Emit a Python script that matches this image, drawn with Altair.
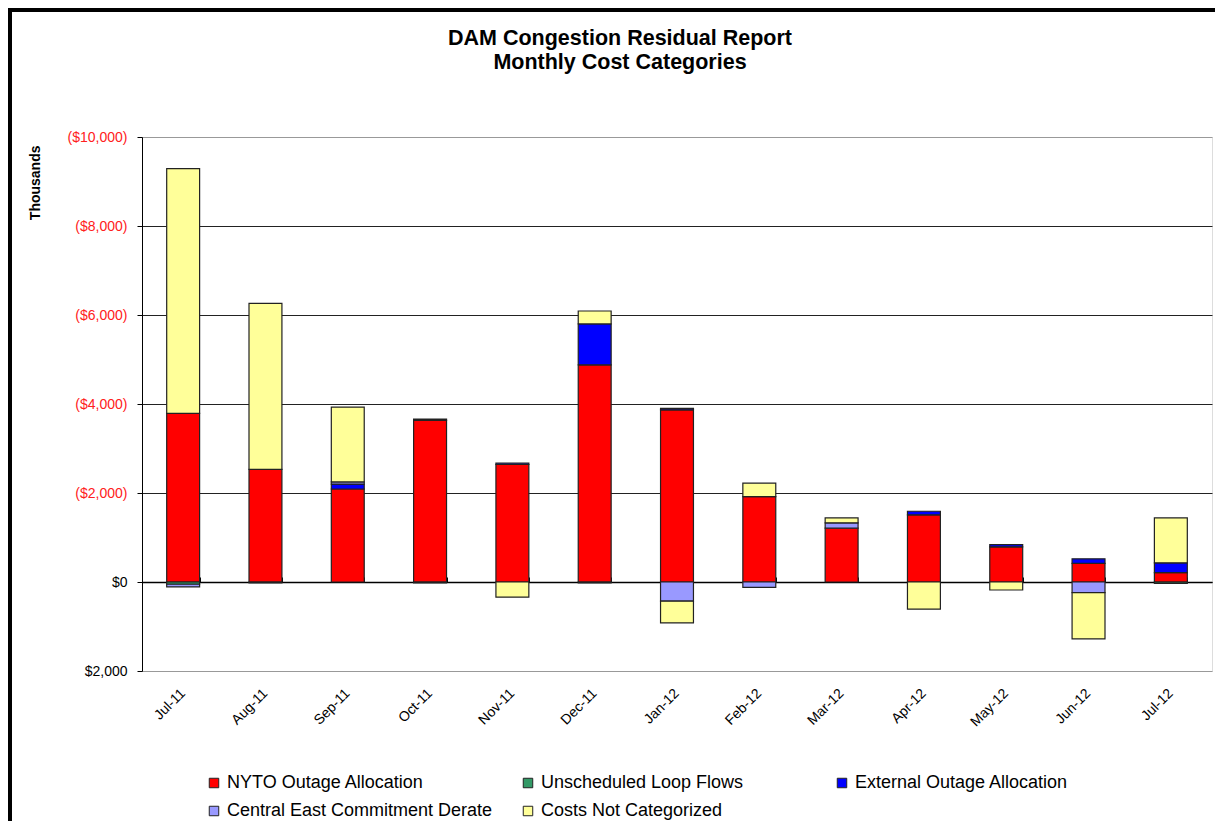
import altair as alt
import pandas as pd

months = ["Jul-11", "Aug-11", "Sep-11", "Oct-11", "Nov-11", "Dec-11", "Jan-12",
          "Feb-12", "Mar-12", "Apr-12", "May-12", "Jun-12", "Jul-12"]
series = ["NYTO Outage Allocation", "Unscheduled Loop Flows", "External Outage Allocation",
          "Central East Commitment Derate", "Costs Not Categorized"]
colors = ["#FF0000", "#339966", "#0000FF", "#9999FF", "#FFFF99"]

# values in thousands of dollars of cost (positive = cost, drawn upward)
nyto = [3790, 2530, 2090, 3630, 2640, 4880, 3870, 1920, 1210, 1510, 790, 420, 210]
loop = [-50, -20, 0, -20, 0, -20, 0, 0, 0, 0, 0, 0, -30]
ext = [0, 0, 110, 30, 30, 920, 30, 0, 0, 80, 50, 100, 220]
ced = [-60, 0, 50, 0, 0, 0, -430, -120, 120, 0, 0, -240, 0]
other = [5500, 3730, 1680, 0, -340, 290, -490, 300, 110, -610, -180, -1040, 1010]

rows = []
for k, vals in enumerate([nyto, loop, ext, ced, other]):
    for m, v in zip(months, vals):
        if v != 0:
            rows.append({"month": m, "series": series[k], "value": v, "ord": k})
df = pd.DataFrame(rows)

FONT = "Liberation Sans"
W, H = 1070, 534

xscale = alt.Scale(paddingInner=0.6, paddingOuter=0.3)

bars = alt.Chart(df).mark_bar(stroke="#222222", strokeWidth=1.2).encode(
    x=alt.X("month:N", sort=months, scale=xscale,
            axis=alt.Axis(orient="top", offset=-445, labels=False, ticks=True,
                          tickBand="extent", tickSize=5, tickColor="black",
                          domainColor="black", domainWidth=1.5, title=None, grid=False)),
    y=alt.Y("value:Q", stack="zero",
            scale=alt.Scale(domain=[-2000, 10000], nice=False, zero=False),
            axis=alt.Axis(values=[-2000, 0, 2000, 4000, 6000, 8000, 10000],
                          labelExpr="datum.value > 0 ? '($' + format(datum.value, ',') + ')' : '$' + format(abs(datum.value), ',')",
                          labelColor={"condition": {"test": "datum.value > 0", "value": "#FF2020"}, "value": "black"},
                          labelFont=FONT, labelFontSize=14, labelPadding=10,
                          tickColor="black", tickSize=5, domainColor="black",
                          grid=True,
                          gridColor={"condition": {"test": "datum.value == 10000 || datum.value == -2000", "value": "#999999"}, "value": "#222222"},
                          title="Thousands", titleFont=FONT, titleFontSize=14, titleFontWeight="bold",
                          titleAngle=270, titleAlign="right", titleBaseline="middle",
                          titleX=-107, titleY=8)),
    color=alt.Color("series:N", scale=alt.Scale(domain=series, range=colors),
                    legend=alt.Legend(orient="none", legendX=63, legendY=637, columns=3,
                                      direction="horizontal", title=None,
                                      symbolType="square", symbolSize=90,
                                      symbolStrokeColor="#222222", symbolStrokeWidth=1,
                                      labelFont=FONT, labelFontSize=18, labelLimit=400,
                                      columnPadding=26, rowPadding=10, gridAlign="all")),
    order=alt.Order("ord:Q", sort="ascending"),
)

labels = alt.Chart(df).mark_tick(opacity=0).encode(
    x=alt.X("month:N", sort=months, scale=xscale,
            axis=alt.Axis(orient="bottom", domain=False, ticks=False, grid=False,
                          labelAngle=315, labelAlign="right", labelBaseline="middle",
                          labelFont=FONT, labelFontSize=14, labelPadding=20, title=None)),
)

frame_df = pd.DataFrame({"a": [0]})
frame_left = alt.Chart(frame_df).mark_rule(color="black", strokeWidth=4).encode(
    x=alt.value(-132), y=alt.value(-129), y2=alt.value(700))
frame_top = alt.Chart(frame_df).mark_rule(color="black", strokeWidth=4).encode(
    y=alt.value(-127), x=alt.value(-134), x2=alt.value(1090))

chart = alt.layer(bars, labels, frame_left, frame_top).resolve_axis(x="independent").properties(
    width=W, height=H,
    title=alt.TitleParams(text=["DAM Congestion Residual Report", "Monthly Cost Categories"],
                          font=FONT, fontSize=21.5, fontWeight="bold", anchor="middle",
                          dx=-57, offset=-67, lineHeight=24, color="black"),
    autosize=alt.AutoSizeParams(type="none"),
    padding={"left": 134, "top": 129, "right": 3, "bottom": 150},
).configure_view(stroke="#999999", strokeWidth=1).configure(background="white")

chart.save("out.html", embed_options={"renderer": "svg", "actions": False})
